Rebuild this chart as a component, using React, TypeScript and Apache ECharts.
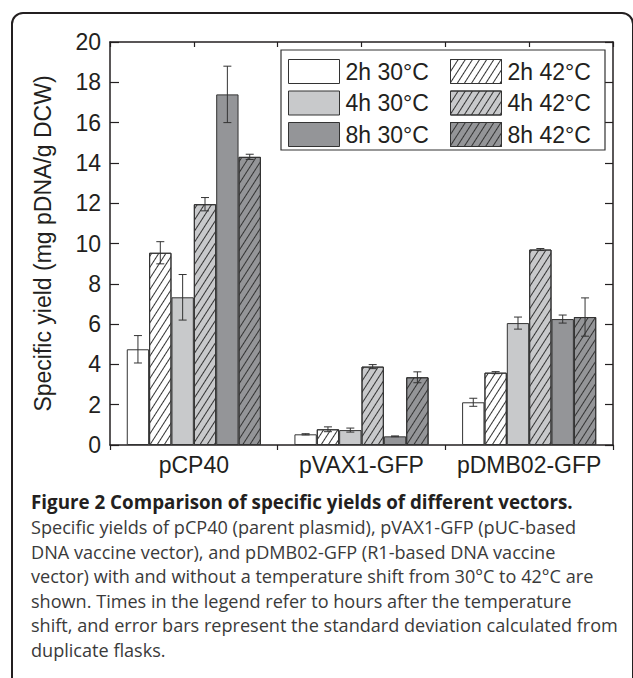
import React, { useEffect, useRef } from 'react';
import * as echarts from 'echarts';

const categories = ['pCP40', 'pVAX1-GFP', 'pDMB02-GFP'];
const seriesNames = ['2h 30°C', '2h 42°C', '4h 30°C', '4h 42°C', '8h 30°C', '8h 42°C'];

const yield2h30 = [4.75, 0.53, 2.12];
const yield2h42 = [9.54, 0.78, 3.59];
const yield4h30 = [7.33, 0.74, 6.05];
const yield4h42 = [11.95, 3.89, 9.7];
const yield8h30 = [17.4, 0.43, 6.25];
const yield8h42 = [14.3, 3.36, 6.35];

const sd2h30 = [0.68, 0.03, 0.2];
const sd2h42 = [0.55, 0.12, 0.05];
const sd4h30 = [1.13, 0.1, 0.3];
const sd4h42 = [0.33, 0.1, 0.05];
const sd8h30 = [1.4, 0.02, 0.2];
const sd8h42 = [0.13, 0.27, 0.95];

const yTicks = [0, 2, 4, 6, 8, 10, 12, 14, 16, 18, 20];

const yAxisTitle = 'Specific yield (mg pDNA/g DCW)';
const captionTitle = 'Figure 2 Comparison of specific yields of different vectors.';
const captionLines = [
  'Specific yields of pCP40 (parent plasmid), pVAX1-GFP (pUC-based',
  'DNA vaccine vector), and pDMB02-GFP (R1-based DNA vaccine',
  'vector) with and without a temperature shift from 30°C to 42°C are',
  'shown. Times in the legend refer to hours after the temperature',
  'shift, and error bars represent the standard deviation calculated from',
  'duplicate flasks.',
];

const allYields = [yield2h30, yield2h42, yield4h30, yield4h42, yield8h30, yield8h42];
const allSd = [sd2h30, sd2h42, sd4h30, sd4h42, sd8h30, sd8h42];
const fills = ['#ffffff', '#ffffff', '#c8c9cb', '#c8c9cb', '#949598', '#949598'];
const hatched = [false, true, false, true, false, true];

const INK = '#231f20';
const AXIS_FONT = '"Liberation Sans", Arial, Helvetica, sans-serif';
const CAP_FONT = '"Open Sans", "Noto Sans", sans-serif';

export default function App() {
  const ref = useRef<HTMLDivElement>(null);

  useEffect(() => {
    if (!ref.current) return;
    const chart = echarts.init(ref.current, undefined, { renderer: 'svg' });

    const decal = {
      symbol: 'rect',
      symbolSize: 1,
      dashArrayX: [1, 0],
      dashArrayY: [1, 5],
      rotation: -1.0,
      color: '#333333',
    };

    const barSeries = seriesNames.map((name, i) => ({
      type: 'bar',
      name,
      data: allYields[i],
      xAxisIndex: 0,
      yAxisIndex: 0,
      barGap: '0%',
      barCategoryGap: '20%',
      z: 2,
      itemStyle: {
        color: fills[i],
        borderColor: '#333333',
        borderWidth: 1,
        decal: hatched[i] ? decal : undefined,
      },
    }));

    const errData: number[][] = [];
    seriesNames.forEach((_, si) => {
      categories.forEach((_, ci) => {
        errData.push([ci, si, allYields[si][ci], allSd[si][ci]]);
      });
    });

    const errSeries = {
      type: 'custom',
      name: 'sd',
      xAxisIndex: 0,
      yAxisIndex: 0,
      z: 5,
      data: errData,
      encode: { x: 0, y: 2 },
      renderItem: (params: any, api: any) => {
        const ci = api.value(0);
        const si = api.value(1);
        const v = api.value(2);
        const e = api.value(3);
        const catW = api.size([1, 0])[0];
        const barW = (catW * 0.8) / 6;
        const center = api.coord([ci, v])[0];
        const x = center - 0.4 * catW + (si + 0.5) * barW;
        const yt = api.coord([ci, v + e])[1];
        const yb = api.coord([ci, v - e])[1];
        const cap = 4;
        const st = { stroke: '#333333', lineWidth: 1 };
        return {
          type: 'group',
          children: [
            { type: 'line', shape: { x1: x, y1: yt, x2: x, y2: yb }, style: st },
            { type: 'line', shape: { x1: x - cap, y1: yt, x2: x + cap, y2: yt }, style: st },
            { type: 'line', shape: { x1: x - cap, y1: yb, x2: x + cap, y2: yb }, style: st },
          ],
        };
      },
    };

    const legendCommon = {
      orient: 'vertical',
      itemWidth: 51,
      itemHeight: 24,
      itemGap: 6.5,
      icon: 'rect',
      selectedMode: false,
      padding: 0,
      z: 6,
      itemStyle: { borderColor: '#333333', borderWidth: 1 },
      textStyle: { fontFamily: AXIS_FONT, fontSize: 23, color: INK, lineHeight: 24, padding: [0, 0, 0, 1] },
    };

    const option: any = {
      animation: false,
      backgroundColor: '#ffffff',
      grid: { left: 110, top: 42, right: 20, bottom: 233, containLabel: false },
      legend: [
        { ...legendCommon, left: 288, top: 59, data: [seriesNames[0], seriesNames[2], seriesNames[4]] },
        { ...legendCommon, left: 450, top: 59, data: [seriesNames[1], seriesNames[3], seriesNames[5]] },
      ],
      xAxis: [
        {
          type: 'category',
          data: categories,
          position: 'bottom',
          axisLine: { show: true, lineStyle: { color: INK, width: 1.5 } },
          axisTick: { show: true, inside: false, length: 5, lineStyle: { color: INK, width: 1.2 } },
          axisLabel: { fontFamily: AXIS_FONT, fontSize: 23, color: INK, margin: 8, interval: 0, hideOverlap: false },
          splitLine: { show: false },
        },
        {
          type: 'value',
          position: 'top',
          min: 0,
          max: 6,
          interval: 1,
          axisLine: { show: true, onZero: false, lineStyle: { color: INK, width: 1.5 } },
          axisTick: { show: true, inside: true, length: 5, lineStyle: { color: INK, width: 1.2 } },
          axisLabel: { show: false },
          splitLine: { show: false },
        },
      ],
      yAxis: [
        {
          type: 'value',
          min: yTicks[0],
          max: yTicks[yTicks.length - 1],
          interval: 2,
          position: 'left',
          name: yAxisTitle,
          nameLocation: 'middle',
          nameGap: 56,
          nameTextStyle: { fontFamily: AXIS_FONT, fontSize: 23, color: INK },
          axisLine: { show: true, lineStyle: { color: INK, width: 1.5 } },
          axisTick: { show: true, inside: true, length: 9, lineStyle: { color: INK, width: 1.2 } },
          axisLabel: { fontFamily: AXIS_FONT, fontSize: 23, color: INK, margin: 9 },
          splitLine: { show: false },
        },
        {
          type: 'value',
          min: yTicks[0],
          max: yTicks[yTicks.length - 1],
          interval: 2,
          position: 'right',
          axisLine: { show: true, onZero: false, lineStyle: { color: INK, width: 1.5 } },
          axisTick: { show: true, inside: true, length: 8, lineStyle: { color: INK, width: 1.2 } },
          axisLabel: { show: false },
          splitLine: { show: false },
        },
      ],
      series: [...barSeries, errSeries],
      graphic: [
        {
          type: 'rect',
          z: -1,
          silent: true,
          shape: { x: 12, y: 13, width: 621, height: 720, r: 11 },
          style: { fill: 'none', stroke: INK, lineWidth: 2 },
        },
        {
          type: 'rect',
          z: 3,
          silent: true,
          shape: { x: 281, y: 50, width: 324, height: 100 },
          style: { fill: '#ffffff', stroke: '#333333', lineWidth: 1.2 },
        },
        {
          type: 'text',
          silent: true,
          x: 31,
          y: 502,
          style: {
            text: captionTitle,
            fontFamily: CAP_FONT,
            fontWeight: 'bold',
            fontSize: 18.8,
            fill: INK,
            verticalAlign: 'middle',
          },
        },
        ...captionLines.map((t, i) => ({
          type: 'text',
          silent: true,
          x: 31,
          y: 527 + i * 24.6,
          style: {
            text: t,
            fontFamily: CAP_FONT,
            fontSize: 18.1,
            fill: '#3a3a3a',
            verticalAlign: 'middle',
          },
        })),
      ],
    };

    chart.setOption(option);
    return () => chart.dispose();
  }, []);

  return (
    <div
      ref={ref}
      style={{ position: 'absolute', left: 0, top: 0, width: 633, height: 678, background: '#fff' }}
    />
  );
}
